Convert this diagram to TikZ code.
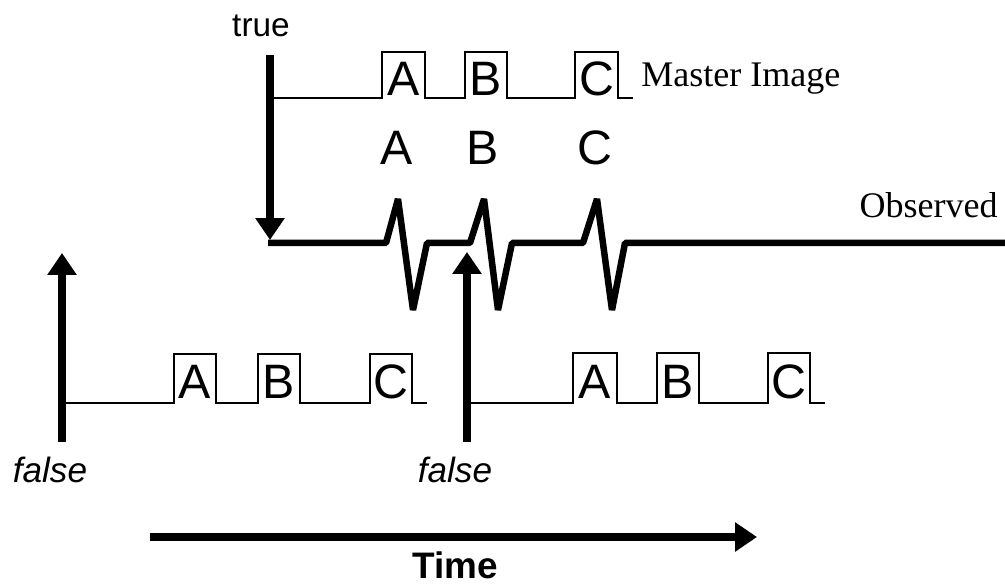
\documentclass[tikz,border=0pt]{standalone}
\usepackage{fontspec}
\setmainfont{Liberation Serif}
\setsansfont{Liberation Sans}
\usepackage{tikz}
\usetikzlibrary{arrows.meta,positioning}

\begin{document}
\begin{tikzpicture}[
    x=0.02cm, y=-0.02cm,
    sig/.style={line width=1.4pt, line join=miter},
    obsline/.style={line width=3.7pt, line join=bevel},
    bigarrow/.style={-{Triangle[length=12.5pt,width=16pt]}, line width=4pt},
    letter/.style={font=\sffamily\fontsize{27.5}{28}\selectfont, anchor=base, inner sep=0pt},
    tag/.style={font=\fontsize{20.5}{22}\selectfont, anchor=base, inner sep=0pt},
    side/.style={font=\sffamily\itshape\fontsize{20}{22}\selectfont, anchor=base, inner sep=0pt},
]
    \useasboundingbox (0,0) rectangle (1005,587);

    % Labels
    \node[tag, font=\sffamily\fontsize{19}{21}\selectfont] (true) at (261,37) {true};
    \node[side] (falseL) at (50,483) {false};
    \node[side] (falseR) at (455,483) {false};
    \node[tag, anchor=base west] (master) at (641,87) {Master Image};
    \node[tag, anchor=base east] (observed) at (998,218) {Observed};
    \node[tag, font=\sffamily\bfseries\fontsize{21}{23}\selectfont] (time) at (455,579) {Time};

    % Arrow ends
    \coordinate (truetop) at (270,55);
    \coordinate (truetip) at (270,240);
    \coordinate (falseLbot) at (62,442);
    \coordinate (falseLtip) at (62,253);
    \coordinate (falseRbot) at (467,442);
    \coordinate (falseRtip) at (467,252);
    \coordinate (timestart) at (150,537);
    \coordinate (timetip) at (757,537);

    % Master image
    \draw[sig] (270,98) -- (382,98) |- (425,52) -- (425,98) -- (465,98) |- (507,52) -- (507,98)
        -- (575,98) |- (618,52) -- (618,98) -- (633,98);
    \node[letter] (mA) at (403.5,96) {A};
    \node[letter] (mB) at (486,96) {B};
    \node[letter] (mC) at (596.5,96) {C};

    % Observed
    \draw[obsline] (268,243) -- (386,243) -- (398,199) -- (413,310) -- (427,243)
        -- (470,243) -- (484,199) -- (498,310) -- (512,243)
        -- (583,243) -- (597,199) -- (612,310) -- (625,243) -- (1005,243);
    \node[letter] (oA) at (397,165) {A};
    \node[letter] (oB) at (483,165) {B};
    \node[letter] (oC) at (595,165) {C};

    % Shifted copy, left
    \draw[sig] (62,403) -- (174,403) |- (216,354) -- (216,403) -- (258,403) |- (300,354) -- (300,403)
        -- (370,403) |- (412,354) -- (412,403) -- (427,403);
    \node[letter] (lA) at (195,399) {A};
    \node[letter] (lB) at (279,399) {B};
    \node[letter] (lC) at (391,399) {C};

    % Shifted copy, right
    \draw[sig] (467,403) -- (573,403) |- (617,353) -- (617,403) -- (657,403) |- (699,353) -- (699,403)
        -- (768,403) |- (810,353) -- (810,403) -- (825,403);
    \node[letter] (rA) at (595,399) {A};
    \node[letter] (rB) at (678,399) {B};
    \node[letter] (rC) at (789,399) {C};

    % Arrows
    \draw[bigarrow] (truetop) -- (truetip);
    \draw[bigarrow] (falseLbot) -- (falseLtip);
    \draw[bigarrow] (falseRbot) -- (falseRtip);
    \draw[bigarrow] (timestart) -- (timetip);
\end{tikzpicture}
\end{document}
